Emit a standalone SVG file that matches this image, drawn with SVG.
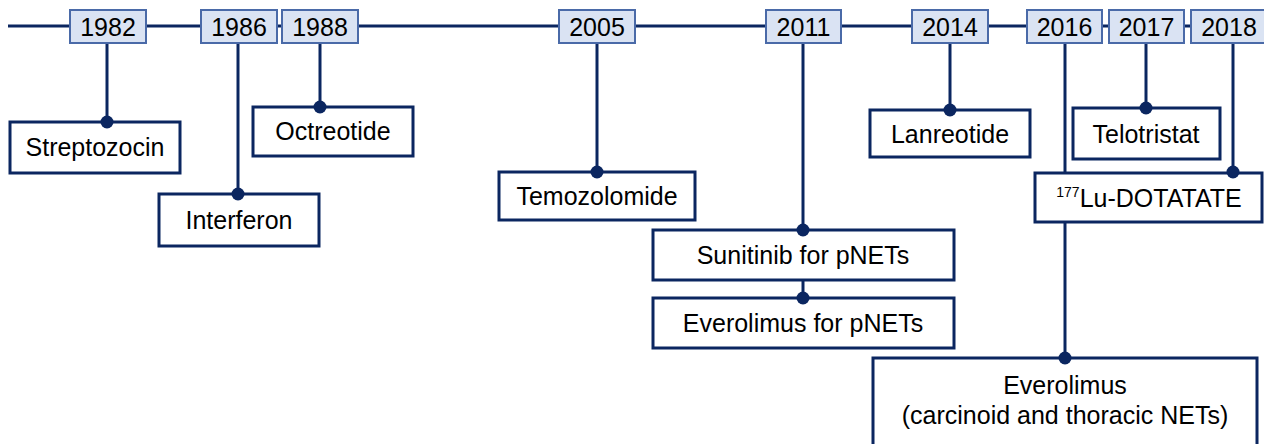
<svg xmlns="http://www.w3.org/2000/svg" width="1264" height="444" viewBox="0 0 1264 444">
<style>
.ln{stroke:#0b2660;stroke-width:3;fill:none}
.yr rect{fill:#dae3f3;stroke:#4a6aa8;stroke-width:2}
.nd rect{fill:#ffffff;stroke:#0b2660;stroke-width:3}
text{font-family:"Liberation Sans",Arial,sans-serif;font-size:25px;fill:#000;text-anchor:middle}
.dot{fill:#0b2660}
</style>
<g id="connectors">
<line class="ln" x1="8" y1="26" x2="1264" y2="26"/>
<line class="ln" x1="107" y1="43" x2="107" y2="122"/>
<line class="ln" x1="238" y1="43" x2="238" y2="194"/>
<line class="ln" x1="320" y1="43" x2="320" y2="107"/>
<line class="ln" x1="597" y1="43" x2="597" y2="172"/>
<line class="ln" x1="803" y1="43" x2="803" y2="230"/>
<line class="ln" x1="803" y1="280" x2="803" y2="298"/>
<line class="ln" x1="950" y1="43" x2="950" y2="110"/>
<line class="ln" x1="1065" y1="43" x2="1065" y2="173"/>
<line class="ln" x1="1065" y1="222" x2="1065" y2="358"/>
<line class="ln" x1="1146" y1="43" x2="1146" y2="108"/>
<line class="ln" x1="1233" y1="43" x2="1233" y2="173"/>
</g>
<g id="y1982" class="yr"><rect x="70" y="10" width="76" height="33"/><text x="108" y="36">1982</text></g>
<g id="y1986" class="yr"><rect x="201" y="10" width="76" height="33"/><text x="239" y="36">1986</text></g>
<g id="y1988" class="yr"><rect x="282" y="10" width="76" height="33"/><text x="320" y="36">1988</text></g>
<g id="y2005" class="yr"><rect x="559" y="10" width="76" height="33"/><text x="597" y="36">2005</text></g>
<g id="y2011" class="yr"><rect x="766" y="10" width="75" height="33"/><text x="803.5" y="36">2011</text></g>
<g id="y2014" class="yr"><rect x="912" y="10" width="76" height="33"/><text x="950" y="36">2014</text></g>
<g id="y2016" class="yr"><rect x="1027" y="10" width="75" height="33"/><text x="1064.5" y="36">2016</text></g>
<g id="y2017" class="yr"><rect x="1109" y="10" width="75" height="33"/><text x="1146.5" y="36">2017</text></g>
<g id="y2018" class="yr"><rect x="1191" y="10" width="76" height="33"/><text x="1229" y="36">2018</text></g>

<g id="streptozocin" class="nd"><rect x="10" y="122" width="170" height="51"/><text x="95" y="156">Streptozocin</text><circle class="dot" cx="107" cy="122" r="6.5"/></g>
<g id="interferon" class="nd"><rect x="159" y="194" width="160" height="52"/><text x="239" y="229">Interferon</text><circle class="dot" cx="238" cy="194" r="6.5"/></g>
<g id="octreotide" class="nd"><rect x="253" y="107" width="160" height="49"/><text x="333" y="140">Octreotide</text><circle class="dot" cx="320" cy="107" r="6.5"/></g>
<g id="temozolomide" class="nd"><rect x="499" y="172" width="196" height="48"/><text x="597" y="205">Temozolomide</text><circle class="dot" cx="597" cy="172" r="6.5"/></g>
<g id="sunitinib" class="nd"><rect x="653" y="230" width="301" height="50"/><text x="803" y="264">Sunitinib for pNETs</text><circle class="dot" cx="803" cy="230" r="6.5"/></g>
<g id="everolimus-pnets" class="nd"><rect x="653" y="298" width="301" height="50"/><text x="803" y="332">Everolimus for pNETs</text><circle class="dot" cx="803" cy="298" r="6.5"/></g>
<g id="lanreotide" class="nd"><rect x="870" y="110" width="160" height="47"/><text x="950" y="143">Lanreotide</text><circle class="dot" cx="950" cy="110" r="6.5"/></g>
<g id="telotristat" class="nd"><rect x="1073" y="108" width="147" height="51"/><text x="1146" y="143">Telotristat</text><circle class="dot" cx="1146" cy="108" r="6.5"/></g>
<g id="lu-dotatate" class="nd"><rect x="1035" y="173" width="227" height="49"/><text x="1149" y="207"><tspan font-size="14" dy="-10">177</tspan><tspan dy="10">Lu-DOTATATE</tspan></text><circle class="dot" cx="1233" cy="172" r="6.5"/></g>
<g id="everolimus-carcinoid" class="nd"><rect x="873" y="358" width="384" height="92"/><text x="1065" y="394">Everolimus</text><text x="1065" y="424">(carcinoid and thoracic NETs)</text><circle class="dot" cx="1065" cy="358" r="6.5"/></g>
</svg>
